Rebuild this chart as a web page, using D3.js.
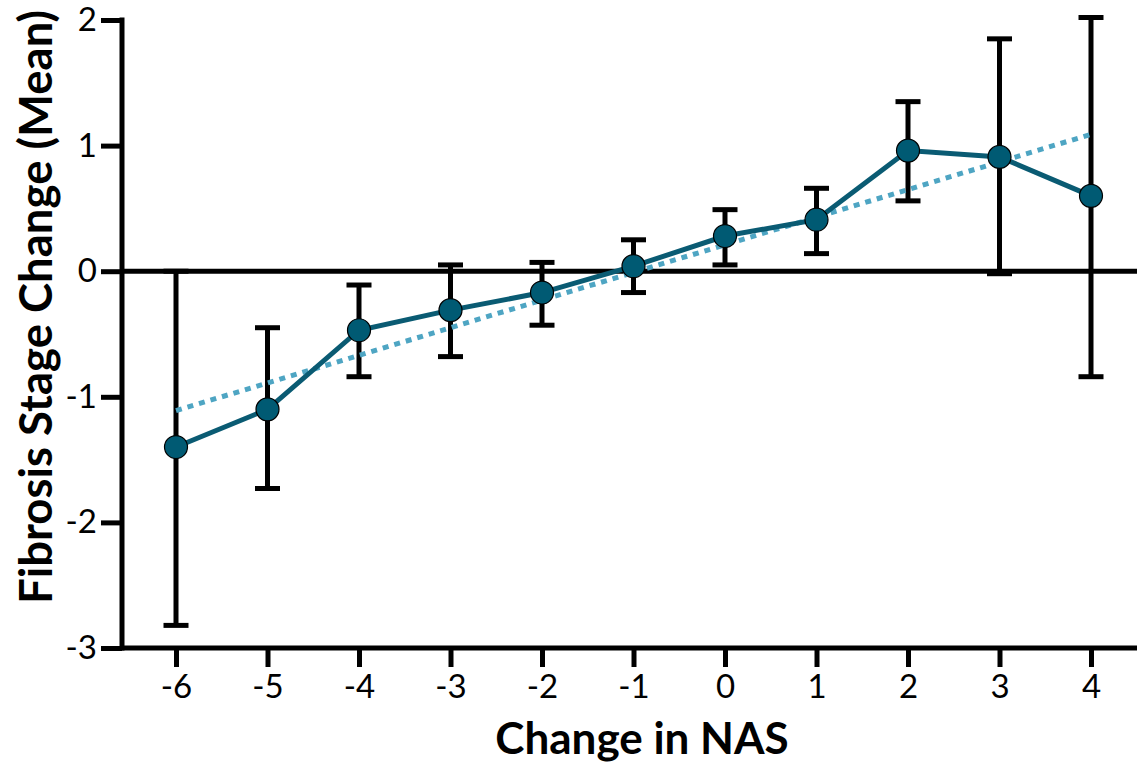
<!DOCTYPE html>
<html>
<head>
<meta charset="utf-8">
<script src="https://cdn.jsdelivr.net/npm/d3@7"></script>
<style>
  body { margin: 0; background: #fff; }
  text { font-family: Lato, "Open Sans", sans-serif; }
</style>
</head>
<body>
<svg width="1137" height="766"></svg>
<script>
var svg = d3.select("svg"),
    width = +svg.attr("width"),
    height = +svg.attr("height");

// values
var nasChange = [-6, -5, -4, -3, -2, -1, 0, 1, 2, 3, 4];
var fibMean   = [-1.40, -1.10, -0.47, -0.31, -0.17, 0.04, 0.28, 0.41, 0.96, 0.91, 0.60];
var errUpper  = [0.00, -0.45, -0.11, 0.05, 0.07, 0.25, 0.49, 0.66, 1.35, 1.85, 2.02];
var errLower  = [-2.82, -1.73, -0.84, -0.68, -0.43, -0.17, 0.05, 0.14, 0.56, -0.02, -0.84];
var trendEnds = [{ x: -6, y: -1.11 }, { x: 4, y: 1.09 }];
var yTicks = [-3, -2, -1, 0, 1, 2];

var x = d3.scaleLinear().domain([-6, 4]).range([176, 1091]);
var y = d3.scaleLinear().domain([-3, 2]).range([648, 20]);

var pts = nasChange.map(function(d, i) {
  return { x: d, m: fibMean[i], hi: errUpper[i], lo: errLower[i] };
});

// plain hyphen like the original, not the unicode minus
var fmt = function(d) { return String(d); };

// y axis
var yAxis = svg.append("g")
    .attr("transform", "translate(122,0)")
    .call(d3.axisLeft(y).tickValues(yTicks).tickSize(21).tickPadding(4).tickFormat(fmt));
yAxis.select(".domain").remove();
yAxis.selectAll(".tick line").attr("stroke", "#000").attr("stroke-width", 5);
yAxis.selectAll(".tick text").attr("font-size", 33).attr("fill", "#000");
svg.append("line")
    .attr("x1", 122).attr("x2", 122)
    .attr("y1", y(2) - 2.5).attr("y2", y(-3) + 2.5)
    .attr("stroke", "#000").attr("stroke-width", 5);

// x axis at bottom
var xAxis = svg.append("g")
    .attr("transform", "translate(0," + y(-3) + ")")
    .call(d3.axisBottom(x).tickValues(nasChange).tickSize(19).tickPadding(8).tickFormat(fmt));
xAxis.select(".domain").remove();
xAxis.selectAll(".tick line").attr("stroke", "#000").attr("stroke-width", 5);
xAxis.selectAll(".tick text").attr("font-size", 33).attr("fill", "#000");
svg.append("line")
    .attr("x1", 120).attr("x2", width)
    .attr("y1", y(-3)).attr("y2", y(-3))
    .attr("stroke", "#000").attr("stroke-width", 5);

// zero line
svg.append("line")
    .attr("x1", 120).attr("x2", width)
    .attr("y1", y(0)).attr("y2", y(0))
    .attr("stroke", "#000").attr("stroke-width", 5);

// error bars
var eb = svg.append("g").attr("class", "errbars")
    .selectAll("g").data(pts).enter().append("g");
eb.append("line")
    .attr("x1", function(d) { return x(d.x); })
    .attr("x2", function(d) { return x(d.x); })
    .attr("y1", function(d) { return y(d.hi); })
    .attr("y2", function(d) { return y(d.lo); })
    .attr("stroke", "#000").attr("stroke-width", 5);
eb.append("line")
    .attr("x1", function(d) { return x(d.x) - 12.5; })
    .attr("x2", function(d) { return x(d.x) + 12.5; })
    .attr("y1", function(d) { return y(d.hi); })
    .attr("y2", function(d) { return y(d.hi); })
    .attr("stroke", "#000").attr("stroke-width", 5);
eb.append("line")
    .attr("x1", function(d) { return x(d.x) - 12.5; })
    .attr("x2", function(d) { return x(d.x) + 12.5; })
    .attr("y1", function(d) { return y(d.lo); })
    .attr("y2", function(d) { return y(d.lo); })
    .attr("stroke", "#000").attr("stroke-width", 5);

// trend line (dotted)
svg.append("line")
    .attr("x1", x(trendEnds[0].x)).attr("y1", y(trendEnds[0].y))
    .attr("x2", x(trendEnds[1].x)).attr("y2", y(trendEnds[1].y))
    .attr("stroke", "#4ea5c3").attr("stroke-width", 5)
    .attr("stroke-dasharray", "6,6");

// mean line
svg.append("path")
    .datum(pts)
    .attr("fill", "none")
    .attr("stroke", "#0a5b73")
    .attr("stroke-width", 5)
    .attr("d", d3.line().x(function(d) { return x(d.x); }).y(function(d) { return y(d.m); }));

// markers
svg.append("g").selectAll("circle")
    .data(pts).enter().append("circle")
    .attr("cx", function(d) { return x(d.x); })
    .attr("cy", function(d) { return y(d.m); })
    .attr("r", 11.5)
    .attr("fill", "#005a73")
    .attr("stroke", "#000").attr("stroke-width", 1.2);

// axis titles
svg.append("text")
    .attr("x", 642).attr("y", 754)
    .attr("text-anchor", "middle")
    .attr("font-size", 44).attr("font-weight", "bold")
    .text("Change in NAS");
svg.append("text")
    .attr("transform", "translate(52,307) rotate(-90)")
    .attr("text-anchor", "middle")
    .attr("font-size", 45.5).attr("font-weight", "bold")
    .text("Fibrosis Stage Change (Mean)");
</script>
</body>
</html>
